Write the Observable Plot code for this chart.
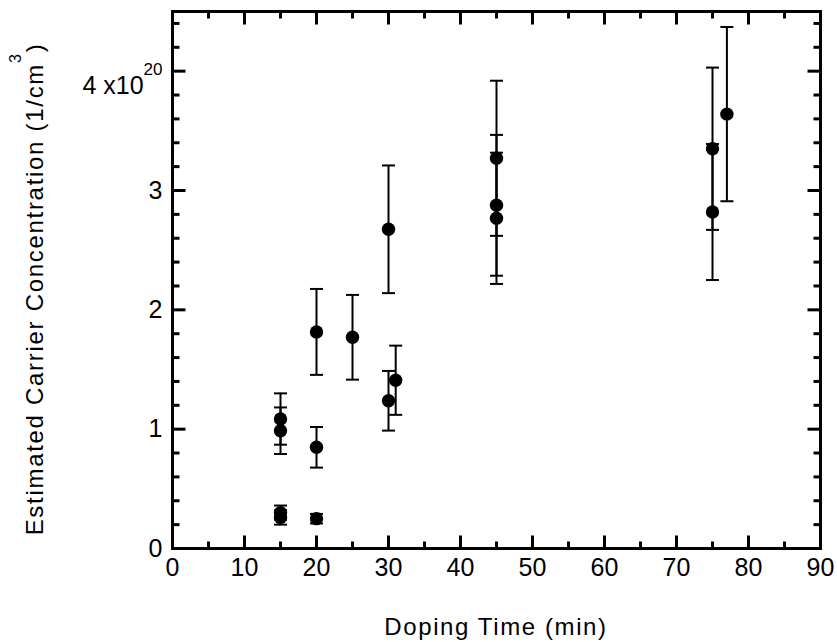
<!DOCTYPE html>
<html>
<head>
<meta charset="utf-8">
<script src="https://cdn.jsdelivr.net/npm/d3@7"></script>
<script src="https://cdn.jsdelivr.net/npm/@observablehq/plot@0.6"></script>
<style>
  html, body { margin: 0; padding: 0; background: #fff; }
  #chart svg { display: block; }
</style>
</head>
<body>
<div id="chart"></div>
<script>
// Doping time (min)
const dopingTime = [15, 15, 15, 15, 20, 20, 20, 25, 30, 30, 31, 45, 45, 45, 75, 75, 77];
// Estimated carrier concentration (x10^20 1/cm^3)
const concentration = [1.085, 0.987, 0.30, 0.26, 1.815, 0.848, 0.25, 1.77, 2.675, 1.238, 1.41, 3.27, 2.876, 2.767, 3.35, 2.82, 3.64];
// symmetric error (x10^20 1/cm^3)
const errorBar = [0.215, 0.195, 0.06, 0.06, 0.36, 0.17, 0.04, 0.355, 0.535, 0.25, 0.29, 0.65, 0.59, 0.55, 0.68, 0.57, 0.73];

const xTicks = [0, 10, 20, 30, 40, 50, 60, 70, 80, 90];
const xMinorTicks = [5, 15, 25, 35, 45, 55, 65, 75, 85];
const yTicks = [0, 1, 2, 3, 4];
const yMinorTicks = [0.2, 0.4, 0.6, 0.8, 1.2, 1.4, 1.6, 1.8, 2.2, 2.4, 2.6, 2.8, 3.2, 3.4, 3.6, 3.8, 4.2, 4.4];

const xLabel = "Doping Time (min)";
const yLabelMain = "Estimated Carrier Concentration (1/cm";

const data = dopingTime.map((t, i) => ({t, c: concentration[i], e: errorBar[i]}));

const lineSym = (dx, dy) => ({draw(ctx, size) { const r = Math.sqrt(size / Math.PI); ctx.moveTo(0, 0); ctx.lineTo(dx * r, dy * r); }});
const tickUp = lineSym(0, -1), tickDown = lineSym(0, 1), tickRight = lineSym(1, 0), tickLeft = lineSym(-1, 0);
const capSym = {draw(ctx, size) { const r = Math.sqrt(size / Math.PI); ctx.moveTo(-r, 0); ctx.lineTo(r, 0); }};

const tickStyle = {fill: "none", stroke: "black", strokeWidth: 3};

const plot = Plot.plot({
  width: 837,
  height: 642,
  marginLeft: 172,
  marginRight: 17,
  marginTop: 11,
  marginBottom: 94,
  style: {fontFamily: "'Liberation Sans', Arial, sans-serif", fontSize: "25px", color: "black", background: "white"},
  x: {domain: [0, 90]},
  y: {domain: [0, 4.5]},
  marks: [
    Plot.axisX({ticks: xTicks, tickSize: 0, tickPadding: 10, label: null, fontSize: 25}),
    Plot.axisY({ticks: yTicks, tickSize: 0, tickPadding: 10, label: null, fontSize: 25,
      tickFormat: d => d === 4 ? "4 x10" : String(d)}),
    // inward ticks on all four sides
    Plot.dot(xTicks, {x: d => d, frameAnchor: "bottom", symbol: tickUp, r: 13, ...tickStyle}),
    Plot.dot(xMinorTicks, {x: d => d, frameAnchor: "bottom", symbol: tickUp, r: 7, ...tickStyle}),
    Plot.dot(xTicks, {x: d => d, frameAnchor: "top", symbol: tickDown, r: 13, ...tickStyle}),
    Plot.dot(xMinorTicks, {x: d => d, frameAnchor: "top", symbol: tickDown, r: 7, ...tickStyle}),
    Plot.dot(yTicks, {y: d => d, frameAnchor: "left", symbol: tickRight, r: 13, ...tickStyle}),
    Plot.dot(yMinorTicks, {y: d => d, frameAnchor: "left", symbol: tickRight, r: 7, ...tickStyle}),
    Plot.dot(yTicks, {y: d => d, frameAnchor: "right", symbol: tickLeft, r: 13, ...tickStyle}),
    Plot.dot(yMinorTicks, {y: d => d, frameAnchor: "right", symbol: tickLeft, r: 7, ...tickStyle}),
    Plot.frame({stroke: "black", strokeWidth: 3}),
    // error bars
    Plot.ruleX(data, {x: "t", y1: d => d.c - d.e, y2: d => d.c + d.e, stroke: "black", strokeWidth: 2}),
    Plot.dot(data, {x: "t", y: d => d.c + d.e, symbol: capSym, r: 6.5, fill: "none", stroke: "black", strokeWidth: 2}),
    Plot.dot(data, {x: "t", y: d => d.c - d.e, symbol: capSym, r: 6.5, fill: "none", stroke: "black", strokeWidth: 2}),
    // points
    Plot.dot(data, {x: "t", y: "c", r: 6.7, fill: "black", stroke: "none"})
  ]
});

const svg = d3.select(plot);
// superscript on the "4 x10^20" tick label
svg.selectAll("text").filter(function() { return this.textContent === "4 x10"; }).each(function() {
  const t = d3.select(this);
  t.attr("dy", "15px");
  t.append("tspan").attr("font-size", "17px").attr("dy", "-19px").text("20");
});

// axis titles
svg.append("text")
  .attr("x", 496).attr("y", 635)
  .attr("text-anchor", "middle")
  .attr("font-size", "24px")
  .attr("letter-spacing", "1.6px")
  .attr("fill", "black")
  .text(xLabel);

const yl = svg.append("text")
  .attr("transform", "translate(43,289) rotate(-90)")
  .attr("text-anchor", "middle")
  .attr("font-size", "24px")
  .attr("letter-spacing", "1.7px")
  .attr("fill", "black");
yl.append("tspan").text(yLabelMain);
yl.append("tspan").attr("font-size", "16px").attr("dy", "-22px").text("3");
yl.append("tspan").attr("dy", "22px").text(")");

document.getElementById("chart").appendChild(plot);
</script>
</body>
</html>
